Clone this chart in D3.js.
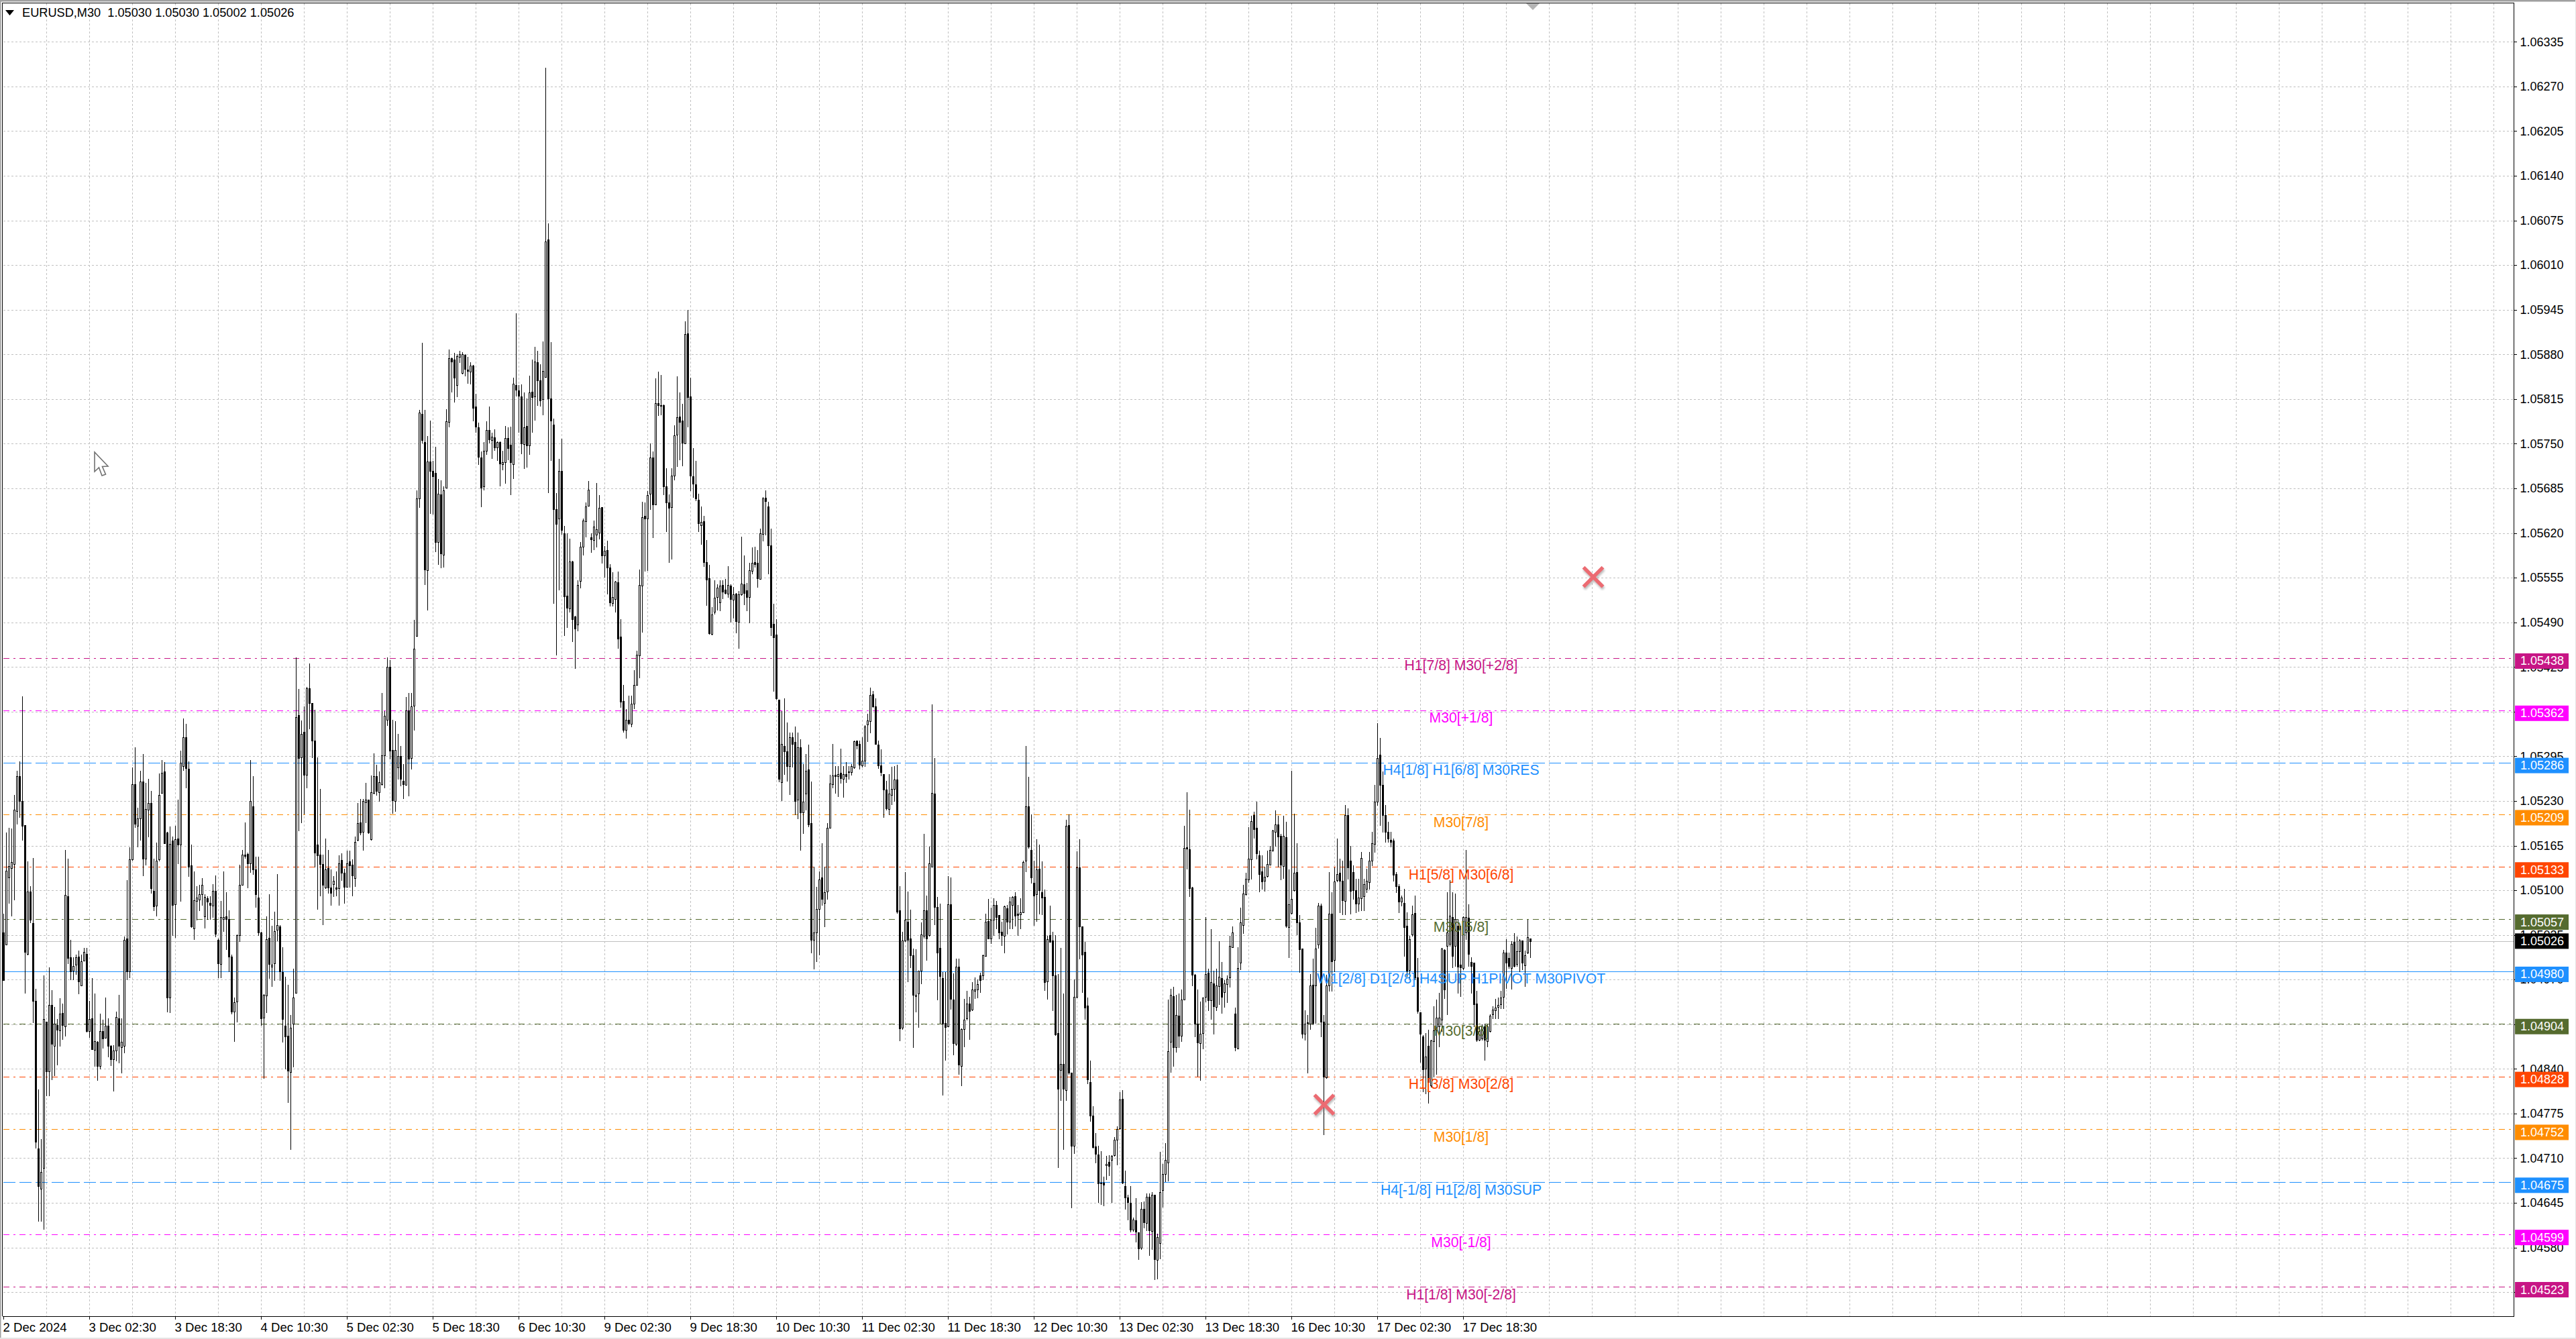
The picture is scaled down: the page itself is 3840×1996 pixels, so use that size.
<!DOCTYPE html>
<html><head><meta charset="utf-8">
<script src="https://d3js.org/d3.v7.min.js"></script>
<style>
html,body{margin:0;padding:0;background:#fff;overflow:hidden}
svg{display:block}
text{font-family:"Liberation Sans",Arial,sans-serif;white-space:pre}
</style></head><body>
<script>
// Prices are given in points above 1.04000: 1026 means 1.05026. Each row: open, high, low, close.
const PRICE_BASE = 1.04, POINT = 0.00001;
const candlesA = [
[1039,1066,969,969],[1021,1184,1021,1128],[1119,1191,1082,1135],[1132,1190,1063,1141],[1138,1239,1086,1217],[1215,1274,1197,1266],[1266,1288,1207,1230],[1230,1382,1173,1194],[1195,1195,951,1010],[1007,1142,1006,1098],
[1098,1106,1053,1057],[1052,1147,908,939],[939,957,725,734],[724,810,619,669],[666,738,619,690],[696,976,607,913],[909,909,801,836],[836,988,801,933],[933,955,825,876],[874,930,831,906],
[904,913,846,897],[896,943,874,920],[921,935,883,904],[902,1159,888,1093],[1091,1146,994,1001],[1002,1028,970,982],[983,1002,970,990],[992,1006,978,1002],[1003,1012,950,967],[961,1006,961,997],
[998,1016,998,1010],[1007,1016,894,895],[895,939,886,913],[914,972,869,869],[868,950,844,880],[879,880,824,844],[844,920,840,895],[895,912,871,884],[885,944,885,903],[903,914,858,874],
[874,875,845,854],[854,875,808,867],[867,923,852,916],[914,948,849,874],[872,914,834,879],[874,1033,864,1028],[1030,1115,970,982],[982,1163,973,1145],[1145,1279,1144,1254],[1254,1308,1192,1197],
[1194,1220,1164,1205],[1205,1274,1173,1258],[1258,1298,1122,1146],[1146,1256,1137,1218],[1217,1262,1178,1227],[1227,1245,1096,1103],[1099,1146,1071,1077],[1078,1169,1063,1143],[1145,1270,1143,1239],[1242,1290,1242,1271],
[1273,1287,1168,1168],[1184,1185,923,944],[944,1193,922,1167],[1172,1178,1035,1079],[1080,1194,1032,1174],[1175,1232,1139,1166],[1166,1303,1084,1286],[1281,1350,1275,1323],[1323,1342,1249,1278],[1277,1288,1121,1134],
[1136,1166,1046,1047],[1044,1127,1029,1085],[1084,1106,1057,1089],[1086,1108,1071,1094],[1094,1118,1079,1108],[1062,1094,1045,1090],[1088,1091,1058,1083],[1082,1091,1058,1079],[1078,1109,1061,1099],[1099,1122,1033,1037],
[1028,1030,973,994],[993,1084,973,1061],[1058,1127,1041,1061],[1062,1097,1014,1058],[1058,1071,982,1003],[1003,1006,920,923],[923,944,880,937],[938,1036,909,1035],[1035,1137,1026,1108],[1108,1159,1108,1152],
[1152,1199,1147,1150],[1153,1155,1104,1139],[1139,1290,1126,1230],[1222,1266,1124,1130],[1130,1149,1076,1094],[1089,1149,1035,1039],[1039,1040,904,914],[915,949,827,948],[947,1062,922,1029],[1031,1094,972,993]];
const candlesB = [
[989,1048,960,992],[994,1069,969,1041],[1042,1124,1027,1049],[1047,1049,969,982],[981,1017,879,913],[903,974,840,887],[888,962,792,837],[835,918,723,900],[906,986,843,944],[951,1439,951,1352],
[1355,1393,1187,1292],[1293,1347,1199,1328],[1331,1368,1211,1268],[1268,1396,1249,1394],[1394,1430,1335,1373],[1373,1373,1293,1318],[1318,1363,1134,1155],[1166,1293,1073,1151],[1152,1248,1092,1138],[1138,1152,1050,1108],
[1104,1175,1103,1130],[1132,1159,1096,1104],[1104,1130,1079,1096],[1109,1121,1091,1114],[1104,1127,1092,1102],[1103,1151,1079,1139],[1144,1154,1115,1125],[1125,1131,1082,1105],[1105,1158,1105,1139],[1142,1158,1105,1136],
[1137,1145,1092,1122],[1118,1178,1106,1170],[1173,1227,1172,1198],[1199,1233,1181,1184],[1185,1233,1159,1230],[1228,1256,1199,1232],[1232,1232,1183,1184],[1174,1267,1173,1243],[1242,1299,1241,1266],[1266,1283,1239,1245],
[1243,1273,1230,1257],[1254,1387,1253,1296],[1296,1361,1249,1354],[1348,1439,1340,1425],[1425,1435,1291,1303],[1304,1348,1212,1231],[1230,1346,1215,1304],[1279,1328,1262,1295],[1295,1310,1252,1262],[1259,1284,1234,1254],
[1253,1381,1253,1362],[1362,1387,1238,1291],[1292,1387,1277,1368],[1369,1494,1333,1452],[1470,1682,1470,1670],[1670,1799,1658,1795],[1793,1897,1751,1755],[1752,1799,1545,1567],[1566,1761,1508,1724],[1724,1784,1649,1710],
[1710,1725,1648,1703],[1707,1746,1593,1607],[1607,1699,1575,1677],[1676,1697,1570,1590],[1588,1688,1571,1682],[1686,1800,1686,1783],[1782,1887,1775,1874],[1874,1875,1826,1870],[1872,1882,1811,1846],[1835,1880,1819,1877],
[1876,1885,1869,1880],[1853,1883,1852,1880],[1879,1880,1849,1859],[1858,1876,1838,1856],[1855,1869,1837,1864],[1864,1865,1784,1802],[1804,1823,1767,1775],[1774,1781,1720,1731],[1730,1739,1659,1686],[1688,1752,1683,1740],
[1740,1783,1735,1770],[1770,1804,1751,1756],[1755,1766,1729,1760],[1759,1771,1741,1745],[1745,1753,1726,1752],[1752,1753,1689,1721],[1720,1740,1712,1723],[1723,1776,1693,1758],[1758,1774,1727,1744],[1748,1775,1676,1723],
[1720,1846,1700,1837],[1835,1940,1820,1829],[1828,1835,1767,1820],[1819,1836,1736,1750],[1749,1825,1714,1774],[1776,1816,1716,1747],[1747,1849,1735,1825],[1826,1872,1767,1818],[1819,1891,1785,1870],[1869,1885,1806,1842]];
const candlesC = [
[1842,1866,1805,1813],[1815,1899,1792,1856],[1847,2297,1847,2044],[2047,2071,1679,1816],[1816,1898,1726,1784],[1778,1787,1518,1655],[1655,1678,1443,1633],[1641,1728,1538,1710],[1710,1757,1619,1624],[1620,1630,1471,1528],
[1529,1620,1483,1511],[1510,1612,1505,1579],[1579,1580,1462,1495],[1498,1499,1423,1481],[1487,1551,1478,1544],[1550,1607,1540,1600],[1600,1641,1588,1638],[1637,1664,1615,1659],[1660,1696,1660,1683],[1614,1620,1592,1611],
[1610,1638,1596,1629],[1618,1693,1600,1625],[1621,1675,1612,1657],[1658,1658,1577,1587],[1587,1601,1556,1594],[1595,1609,1532,1570],[1570,1575,1514,1519],[1518,1563,1514,1527],[1524,1550,1505,1549],[1548,1564,1453,1466],
[1469,1495,1367,1374],[1375,1399,1331,1333],[1333,1364,1322,1348],[1348,1383,1341,1343],[1342,1383,1338,1372],[1372,1420,1365,1399],[1399,1449,1399,1443],[1442,1567,1410,1544],[1543,1665,1476,1643],[1645,1664,1565,1641],
[1641,1681,1566,1675],[1677,1750,1655,1730],[1730,1739,1614,1662],[1662,1845,1662,1809],[1809,1855,1791,1806],[1806,1850,1792,1805],[1806,1807,1676,1688],[1688,1714,1622,1664],[1664,1676,1578,1657],[1658,1714,1582,1704],
[1704,1777,1698,1762],[1763,1848,1717,1788],[1789,1825,1727,1782],[1784,1808,1718,1751],[1750,1928,1750,1910],[1911,1945,1775,1818],[1819,1846,1682,1704],[1703,1744,1672,1692],[1691,1725,1667,1670],[1668,1677,1622,1634],
[1631,1659,1604,1636],[1637,1645,1572,1578],[1578,1610,1515,1552],[1554,1574,1473,1474],[1473,1512,1472,1501],[1505,1551,1502,1526],[1527,1545,1508,1540],[1519,1551,1507,1543],[1544,1551,1525,1535],[1538,1553,1532,1533],
[1532,1572,1527,1544],[1543,1545,1491,1524],[1523,1541,1497,1531],[1532,1533,1475,1492],[1491,1536,1453,1531],[1531,1615,1530,1546],[1545,1587,1516,1533],[1537,1547,1507,1527],[1527,1577,1490,1566],[1565,1599,1561,1577],
[1578,1600,1571,1575],[1577,1595,1541,1554],[1553,1626,1553,1620],[1619,1672,1609,1670],[1671,1682,1618,1666],[1659,1665,1561,1602],[1602,1626,1471,1483],[1488,1517,1390,1468],[1472,1495,1378,1379],[1377,1377,1258,1262],
[1257,1361,1231,1313],[1310,1379,1269,1302],[1302,1344,1259,1281],[1281,1330,1240,1323],[1323,1330,1280,1313],[1316,1338,1210,1230],[1232,1330,1205,1308],[1308,1320,1159,1213],[1213,1284,1183,1229],[1241,1298,1217,1274]];
const candlesD = [
[1276,1312,1193,1196],[1198,1258,1009,1028],[1028,1134,986,1039],[1039,1105,997,1073],[1073,1127,1006,1116],[1119,1168,1079,1087],[1082,1134,1047,1097],[1098,1198,1087,1191],[1191,1268,1191,1255],[1254,1313,1249,1267],
[1268,1281,1242,1266],[1266,1281,1237,1269],[1271,1306,1256,1263],[1262,1281,1236,1269],[1269,1287,1257,1266],[1273,1281,1262,1272],[1272,1284,1268,1281],[1279,1318,1278,1317],[1318,1318,1306,1311],[1313,1318,1277,1283],
[1282,1323,1280,1289],[1289,1340,1281,1338],[1341,1357,1317,1347],[1346,1395,1330,1384],[1385,1390,1367,1368],[1368,1379,1313,1313],[1312,1318,1278,1282],[1282,1305,1267,1272],[1269,1269,1207,1247],[1247,1259,1217,1219],
[1218,1269,1210,1241],[1239,1280,1225,1248],[1248,1281,1230,1261],[1261,1283,1067,1069],[1071,1106,881,899],[900,1040,898,1027],[1027,1126,1026,1057],[1054,1098,967,1028],[1030,1072,988,1005],[1005,1015,872,948],
[946,1014,923,948],[950,983,901,983],[983,1053,964,1036],[1034,1182,1031,1071],[1071,1092,999,1030],[1035,1164,1034,1139],[1134,1371,1134,1242],[1241,1292,1050,1076],[1076,1090,941,1009],[1016,1081,907,975],
[972,981,802,906],[907,981,853,901],[902,1121,902,1080],[1080,1119,927,942],[941,979,861,877],[876,1000,875,989],[989,1000,833,846],[844,899,816,898],[898,942,873,912],[914,954,912,935],
[935,945,883,924],[926,966,925,956],[954,973,943,956],[956,970,944,963],[976,980,952,969],[976,1006,970,1005],[1004,1066,1004,1054],[1055,1087,1030,1030],[1030,1075,1023,1057],[1057,1088,1035,1079],
[1079,1084,1044,1061],[1064,1064,1030,1039],[1040,1054,1020,1035],[1034,1078,1009,1077],[1074,1079,1037,1054],[1054,1090,1044,1083],[1079,1091,1044,1090],[1091,1097,1048,1063],[1066,1079,1035,1064],[1065,1088,1044,1068],
[1068,1143,1068,1141],[1143,1310,1127,1222],[1222,1265,1162,1164],[1159,1210,1111,1119],[1111,1143,1049,1092],[1094,1174,1055,1130],[1131,1166,1066,1100],[1097,1142,1065,1089],[1090,1101,955,966],[967,1034,942,1029],
[1035,1078,1025,1025],[1027,1040,925,976],[976,1035,889,890],[892,978,697,811],[838,1016,794,847],[847,950,723,811],[809,1203,794,1194],[1195,1210,833,834],[834,834,638,728],[728,970,717,945]];
const candlesE = [
[945,1157,944,1133],[1133,1174,1000,1047],[1047,1047,952,1006],[1010,1025,913,929],[932,944,819,825],[821,852,764,772],[772,786,725,726],[727,747,704,716],[715,728,646,673],[674,720,643,673],
[674,683,641,671],[700,713,679,702],[705,714,685,699],[708,714,646,713],[714,741,713,737],[737,756,701,752],[753,806,752,795],[796,809,673,674],[669,692,636,653],[653,657,621,646],
[645,669,603,606],[606,624,604,621],[620,652,588,603],[602,602,563,579],[580,646,578,636],[636,647,609,617],[616,659,605,654],[654,659,569,605],[604,661,578,657],[657,657,534,563],
[562,600,535,595],[586,719,564,661],[664,702,639,687],[687,732,676,708],[704,941,677,866],[879,957,835,948],[946,959,844,872],[872,948,865,918],[917,950,872,888],[888,956,880,941],
[941,1194,941,1162],[1163,1243,1131,1161],[1160,1217,1091,1103],[1104,1105,961,977],[977,978,887,906],[906,956,830,878],[877,938,824,891],[892,944,870,944],[945,1061,938,978],[980,986,925,940],
[940,1043,913,966],[964,983,891,931],[930,986,925,961],[960,1026,934,974],[972,996,921,945],[952,969,930,964],[963,976,937,971],[973,1034,959,1019],[1017,1047,1017,1039],[920,929,867,872],
[870,1017,870,987],[995,1075,985,1053],[1049,1108,1038,1095],[1094,1125,1093,1117],[1116,1192,1112,1146],[1145,1208,1117,1201],[1209,1214,1176,1189],[1191,1229,1146,1154],[1151,1158,1098,1124],[1127,1151,1102,1113],
[1114,1134,1099,1120],[1121,1158,1120,1138],[1137,1165,1137,1159],[1159,1188,1157,1187],[1185,1216,1165,1196],[1196,1208,1134,1178],[1179,1182,1116,1137],[1135,1208,1118,1179],[1177,1200,1046,1048],[1046,1130,1002,1080],
[1067,1274,1066,1087],[1100,1211,1099,1125],[1126,1168,1036,1053],[1053,1064,981,1014],[1015,1015,885,891],[891,925,882,906],[908,918,834,907],[906,978,898,961],[962,1000,905,907],[961,1045,907,1015]];
const candlesF = [
[1021,1082,1016,1078],[1078,1081,887,909],[909,918,745,829],[828,977,827,961],[961,1126,954,1066],[1066,1097,954,997],[999,1133,982,1113],[1115,1175,1113,1124],[1125,1146,1068,1114],[1114,1143,1065,1085],
[1084,1224,1065,1209],[1209,1219,1117,1133],[1143,1165,1066,1099],[1126,1136,1087,1100],[1100,1117,1068,1081],[1081,1117,1070,1089],[1088,1156,1071,1147],[1091,1117,1071,1109],[1102,1131,1097,1114],[1112,1156,1102,1143],
[1143,1185,1136,1168],[1167,1253,1156,1229],[1229,1343,1224,1292],[1297,1322,1195,1253],[1253,1273,1185,1209],[1209,1224,1170,1185],[1185,1200,1170,1175],[1173,1185,1164,1170],[1172,1175,1114,1123],[1124,1126,1097,1106],
[1106,1109,1068,1083],[1083,1092,1078,1089],[1082,1102,1004,1046],[1048,1068,975,983],[984,1034,970,1029],[1036,1078,1034,1065],[1067,1092,970,973],[973,1001,921,924],[922,922,850,891],[887,889,807,839],
[840,892,804,858],[874,897,791,821],[816,882,814,881],[880,931,829,896],[897,941,833,915],[902,951,873,915],[912,1016,895,1015],[1013,1014,943,956],[1019,1097,919,1039],[1022,1115,1019,1063],
[1061,1097,988,1004],[1019,1095,990,1058],[1048,1058,951,989],[992,1048,946,988],[987,1062,985,1061],[1039,1159,1029,1061],[1060,1080,990,1007],[996,1002,951,990],[995,995,902,934],[935,954,880,882],
[882,902,881,895],[884,905,882,902],[902,906,853,882],[880,905,873,902],[895,919,894,917],[919,931,914,926],[925,942,914,929],[930,944,914,933],[934,954,928,944],[945,1013,928,1009],
[1009,1029,958,995],[1001,1009,987,990],[987,1026,957,1022],[1025,1038,989,990],[993,1033,990,1011],[1011,1029,982,1027],[1027,1027,985,995],[991,1012,960,1005],[1009,1057,1008,1032],[1030,1030,1002,1026]];

// Level lines as they sit on the chart's pixel-rounded price grid, and the price tag each one shows.
const levelPrices = [1.05438,1.05362,1.05286,1.05210,1.05134,1.05058,1.04982,1.04906,1.04829,1.04752,1.04675,1.04599,1.04523];
const levelTags = ["1.05438","1.05362","1.05286","1.05209","1.05133","1.05057","1.04980","1.04904","1.04828","1.04752","1.04675","1.04599","1.04523"];
const levelNames = ["H1[7/8] M30[+2/8]","M30[+1/8]","H4[1/8] H1[6/8] M30RES","M30[7/8]","H1[5/8] M30[6/8]","M30[5/8]","W1[2/8] D1[2/8] H4SUP H1PIVOT M30PIVOT","M30[3/8]","H1[3/8] M30[2/8]","M30[1/8]","H4[-1/8] H1[2/8] M30SUP","M30[-1/8]","H1[1/8] M30[-2/8]"];
const levelColors = ["#C71585","#FF00FF","#1E90FF","#FF8C00","#FF4500","#556B2F","#1E90FF","#556B2F","#FF4500","#FF8C00","#1E90FF","#FF00FF","#C71585"];
const levelStyles = ["dashdot","dashdot","dash","dashdot","dashdot","dashdot","solid","dashdot","dashdot","dashdot","dash","dashdot","dashdot"];
const priceTicks = [1.06335,1.06270,1.06205,1.06140,1.06075,1.06010,1.05945,1.05880,1.05815,1.05750,1.05685,1.05620,1.05555,1.05490,1.05425,1.05360,1.05295,1.05230,1.05165,1.05100,1.05035,1.04970,1.04905,1.04840,1.04775,1.04710,1.04645,1.04580,1.04515];
const timeLabels = ["2 Dec 2024","3 Dec 02:30","3 Dec 18:30","4 Dec 10:30","5 Dec 02:30","5 Dec 18:30","6 Dec 10:30","9 Dec 02:30","9 Dec 18:30","10 Dec 10:30","11 Dec 02:30","11 Dec 18:30","12 Dec 10:30","13 Dec 02:30","13 Dec 18:30","16 Dec 10:30","17 Dec 02:30","17 Dec 18:30"];
const BARS_PER_LABEL = 32, BARS_PER_GRID = 16, SCREEN_BARS = 935;
const crossBars = [492.25, 592.5], crossPrices = [1.04788, 1.05556];
const currentPrice = 1.05026;
const titleText = "EURUSD,M30  1.05030 1.05030 1.05002 1.05026";

const W = 3840, H = 1996, L = 4, T = 4, R = 3747, B = 1962;
const x = d3.scaleLinear().domain([0, SCREEN_BARS]).range([5, 3745]);
const y = d3.scaleLinear().domain([1.06335, 1.04523]).range([62.3, 1918]);
const px = v => Math.round(y(PRICE_BASE + v * POINT));
const candles = [...candlesA, ...candlesB, ...candlesC, ...candlesD, ...candlesE, ...candlesF];

const svg = d3.select("body").append("svg").attr("width", W).attr("height", H).attr("viewBox", `0 0 ${W} ${H}`);
svg.append("rect").attr("width", W).attr("height", H).attr("fill", "#fff");
const defs = svg.append("defs");
defs.append("filter").attr("id", "soft").append("feGaussianBlur").attr("stdDeviation", 1.6);

// window frame
svg.append("rect").attr("x",0).attr("y",0).attr("width",W).attr("height",2.5).attr("fill","#a0a0a0");
svg.append("rect").attr("x",0).attr("y",0).attr("width",1.5).attr("height",H).attr("fill","#a0a0a0");
svg.append("rect").attr("x",0).attr("y",H-2).attr("width",W).attr("height",2).attr("fill","#e4e4e4");
svg.append("rect").attr("x",W-1).attr("y",0).attr("width",1).attr("height",H).attr("fill","#e4e4e4");

// grid
const gridIdx = d3.range(BARS_PER_GRID, SCREEN_BARS + 1, BARS_PER_GRID);
const grid = svg.append("g").attr("stroke","#c0c0c0").attr("stroke-width",1).attr("stroke-dasharray","3,3").attr("shape-rendering","crispEdges");
grid.selectAll("line.v").data(gridIdx).join("line").attr("class","v")
  .attr("x1",d=>Math.round(x(d))+.5).attr("x2",d=>Math.round(x(d))+.5).attr("y1",T+1).attr("y2",B);
grid.selectAll("line.h").data(priceTicks).join("line").attr("class","h")
  .attr("x1",L+1).attr("x2",R).attr("y1",d=>Math.round(y(d))+.5).attr("y2",d=>Math.round(y(d))+.5);

// levels behind the candles
const dashes = {dashdot:"9,6,3,6", dash:"18,6", solid:null};
const lev = svg.append("g").attr("shape-rendering","crispEdges");
lev.append("line").attr("x1",L+1).attr("x2",R).attr("y1",Math.round(y(currentPrice))+.5).attr("y2",Math.round(y(currentPrice))+.5).attr("stroke","#c0c0c0");
lev.selectAll("line.l").data(levelPrices).join("line").attr("class","l")
  .attr("x1",L+1).attr("x2",R)
  .attr("y1",d=>Math.round(y(d))+.5).attr("y2",d=>Math.round(y(d))+.5)
  .attr("stroke",(d,i)=>levelColors[i]).attr("stroke-width",1)
  .attr("stroke-dasharray",(d,i)=>dashes[levelStyles[i]]);

// candles
const cg = svg.append("g").attr("shape-rendering","crispEdges");
cg.selectAll("line").data(candles).join("line")
  .attr("x1",(d,i)=>Math.round(x(i))+.5).attr("x2",(d,i)=>Math.round(x(i))+.5)
  .attr("y1",d=>px(d[1])).attr("y2",d=>px(d[2])+1).attr("stroke","#000");
cg.selectAll("rect").data(candles).join("rect")
  .attr("x",(d,i)=>Math.round(x(i))-.5).attr("width",2)
  .attr("y",d=>Math.min(px(d[0]),px(d[3]))+.5)
  .attr("height",d=>Math.max(1,Math.abs(px(d[0])-px(d[3]))))
  .attr("fill",d=>d[3]>=d[0]?"#fff":"#000").attr("stroke","#000").attr("stroke-width",1);

// level captions
svg.append("g").selectAll("text").data(levelPrices).join("text")
  .attr("x",2178).attr("y",d=>y(d)+11).attr("text-anchor","middle").attr("dominant-baseline","central")
  .attr("font-size",21.2).attr("fill",(d,i)=>levelColors[i]).text((d,i)=>levelNames[i]);

// cross markers
const crossPath = "M-14.5,-14.5L14.5,14.5M-14.5,14.5L14.5,-14.5";
const crosses = crossBars.map((b,i)=>({b,p:crossPrices[i]}));
const cr = svg.append("g");
cr.selectAll("path.s").data(crosses).join("path").attr("class","s")
  .attr("transform",d=>`translate(${x(d.b)+1},${y(d.p)+3})`).attr("d",crossPath)
  .attr("stroke","#888").attr("stroke-width",5.5).attr("opacity",.55).attr("fill","none").attr("filter","url(#soft)");
cr.selectAll("path.m").data(crosses).join("path").attr("class","m")
  .attr("transform",d=>`translate(${x(d.b)},${y(d.p)})`).attr("d",crossPath)
  .attr("stroke","#ec6b72").attr("stroke-width",5.5).attr("fill","none");

// price axis
const yAxis = svg.append("g").attr("transform",`translate(${R+.5},0)`)
  .call(d3.axisRight(y).tickValues(priceTicks).tickFormat(d3.format(".5f")).tickSize(4).tickPadding(5));
yAxis.select(".domain").remove();
yAxis.selectAll("line").attr("stroke","#000").attr("shape-rendering","crispEdges");
yAxis.selectAll("text").attr("font-size",18).attr("font-family",'"Liberation Sans"').attr("fill","#000");
svg.append("line").attr("x1",R+.5).attr("x2",R+.5).attr("y1",T).attr("y2",B+1).attr("stroke","#000").attr("shape-rendering","crispEdges");

// time axis
const xAxis = svg.append("g").attr("transform",`translate(0,${B+.5})`)
  .call(d3.axisBottom(x).tickValues(timeLabels.map((d,i)=>i*BARS_PER_LABEL)).tickFormat((d,i)=>timeLabels[i]).tickSize(4).tickPadding(5));
xAxis.select(".domain").remove();
xAxis.selectAll("line").attr("stroke","#000").attr("shape-rendering","crispEdges");
xAxis.selectAll("text").attr("font-size",18.6).attr("font-family",'"Liberation Sans"').attr("fill","#000").attr("text-anchor","start").attr("x",-1);
svg.append("line").attr("x1",L).attr("x2",R).attr("y1",B+.5).attr("y2",B+.5).attr("stroke","#000").attr("shape-rendering","crispEdges");
svg.append("line").attr("x1",L).attr("x2",R).attr("y1",T+.5).attr("y2",T+.5).attr("stroke","#000").attr("shape-rendering","crispEdges");
svg.append("line").attr("x1",L-.5).attr("x2",L-.5).attr("y1",T).attr("y2",B).attr("stroke","#000").attr("shape-rendering","crispEdges");

// price tags
const tagX = 3749, tagW = 80, tagH = 23;
const tags = svg.append("g");
tags.selectAll("rect").data(levelPrices).join("rect")
  .attr("x",tagX).attr("width",tagW).attr("height",tagH).attr("y",d=>y(d)+4.5-tagH/2).attr("fill",(d,i)=>levelColors[i]);
tags.selectAll("text").data(levelPrices).join("text")
  .attr("x",3757).attr("y",d=>y(d)+4.5).attr("dominant-baseline","central").attr("font-size",18).attr("fill","#fff").text((d,i)=>levelTags[i]);
tags.append("rect").attr("x",tagX).attr("width",tagW).attr("height",tagH).attr("y",y(currentPrice)-tagH/2).attr("fill","#000");
tags.append("text").attr("x",3757).attr("y",y(currentPrice)).attr("dominant-baseline","central").attr("font-size",18).attr("fill","#fff").text(currentPrice.toFixed(5));

// header
svg.append("path").attr("d","M8,15L21,15L14.5,23Z").attr("fill","#000");
svg.append("text").attr("x",33).attr("y",19).attr("dominant-baseline","central").attr("font-size",18.2).attr("fill","#000").text(titleText);
svg.append("path").attr("d","M2275,5L2295,5L2285,15Z").attr("fill","#b4b4b4");
// mouse pointer
svg.append("path").attr("d","M141,674L141,703L147.5,697L152,709L157.5,707L152.5,695.5L161,695Z")
  .attr("fill","#fff").attr("stroke","#707070").attr("stroke-width",1.6).attr("stroke-linejoin","miter");
</script>
</body></html>
